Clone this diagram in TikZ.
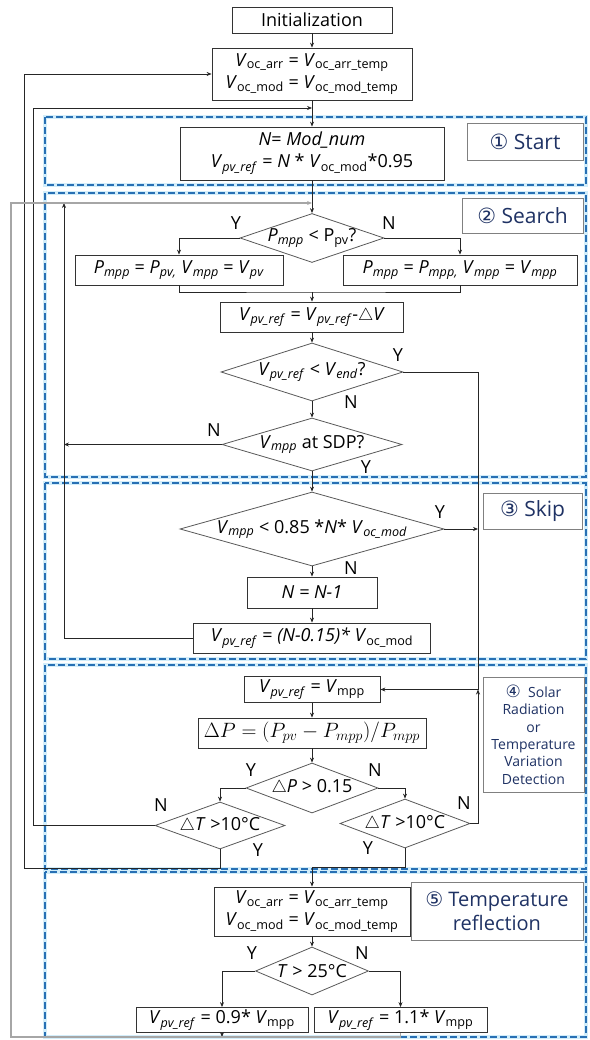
\documentclass[tikz,border=0pt]{standalone}
\usepackage{fontspec}
\setmainfont{Open Sans}
\newfontfamily\circfont{DejaVu Sans}
\usetikzlibrary{shapes.geometric,arrows.meta}

\definecolor{frameblue}{RGB}{40,112,180}
\definecolor{frameglow}{RGB}{210,237,250}
\definecolor{tagnavy}{RGB}{31,50,100}

\newcommand{\mainsz}{\fontsize{18}{22}\selectfont}
\newcommand{\tagsz}{\fontsize{21}{25}\selectfont}
\newcommand{\dtext}[1]{\makebox[0pt]{#1}}
% V and P with upright or italic subscripts
\newcommand{\Vu}[1]{\textit{V}\textsubscript{#1}}
\newcommand{\Vi}[1]{\textit{V}\textsubscript{\textit{#1}}}
\newcommand{\Pmi}[1]{\textit{P}\textsubscript{\textit{#1}}}

\tikzset{
  box/.style={draw=black!80, line width=0.8pt, fill=white, align=center, inner sep=1pt, font=\mainsz},
  dec/.style={diamond, draw=black!65, line width=0.8pt, fill=white, inner sep=0pt, font=\mainsz},
  tag/.style={draw=black!50, line width=0.9pt, fill=white, text=tagnavy, align=center, font=\tagsz},
  yn/.style={font=\mainsz, inner sep=0pt},
  arr/.style={draw=black!85, line width=0.7pt, -{Stealth[length=5pt,width=4pt]}},
  back/.style={draw=gray!70, line width=1.3pt, -{Stealth[length=5pt,width=4pt]}},
  grp/.style={draw=frameblue, line width=2.2pt, dash pattern=on 7pt off 3pt},
  glow/.style={draw=frameglow, line width=4.5pt},
}

\begin{document}
\begin{tikzpicture}[x=1pt,y=-1pt]
  \useasboundingbox (0,0) rectangle (589,1040);

  % dashed stage frames
  \foreach \ya/\yb in {117/185,193/477,483/659,665/869,872/1037}{
    \draw[glow] (45,\ya) rectangle (586,\yb);
    \draw[grp] (45,\ya) rectangle (586,\yb);
  }

  % main column
  \node[box, minimum width=160pt, minimum height=26pt] (init) at (312,20) {Initialization};
  \node[box, minimum width=200pt, minimum height=52pt] (voc1) at (312,74)
    {\Vu{oc\_arr} = \Vu{oc\_arr\_temp}\\ \Vu{oc\_mod} = \Vu{oc\_mod\_temp}};
  \node[box, minimum width=264pt, minimum height=53pt] (nmod) at (312,153.5)
    {\textit{N}= \textit{Mod\_num}\\ \Vi{pv\_ref} = \textit{N} * \Vu{oc\_mod}*0.95};

  % search
  \node[dec, minimum width=144pt, minimum height=49pt] (dec1) at (312,238)
    {\dtext{\Pmi{mpp} < P\textsubscript{pv}?}};
  \node[box, minimum width=208pt, minimum height=30pt] (pl) at (179,270)
    {\Pmi{mpp} = \Pmi{pv,} \Vi{mpp} = \Vi{pv}};
  \node[box, minimum width=234pt, minimum height=30pt] (pr) at (460,270)
    {\Pmi{mpp} = \Pmi{mpp,} \Vi{mpp} = \Vi{mpp}};
  \node[box, minimum width=183pt, minimum height=30pt] (dv) at (312,317)
    {\Vi{pv\_ref} = \Vi{pv\_ref}-$\triangle$\textit{V}};
  \node[dec, minimum width=182pt, minimum height=58pt] (dec2) at (312,372)
    {\dtext{\Vi{pv\_ref} < \Vi{end}?}};
  \node[dec, minimum width=180pt, minimum height=53pt] (dec3) at (312,444.5)
    {\dtext{\Vi{mpp} at SDP?}};

  % skip
  \node[dec, minimum width=264pt, minimum height=74pt] (dec4) at (312,529)
    {\dtext{\Vi{mpp} < 0.85 *\textit{N}* \Vi{oc\_mod}}};
  \node[box, minimum width=130pt, minimum height=31pt] (nm1) at (312,592.5) {\textit{N = N-1}};
  \node[box, minimum width=237pt, minimum height=30pt] (nref) at (312,638)
    {\Vi{pv\_ref} = \textit{(N-0.15)*} \Vu{oc\_mod}};

  % variation detection
  \node[box, minimum width=136pt, minimum height=26pt] (vmpp) at (312,689.5)
    {\Vi{pv\_ref} = \Vu{mpp}};
  \node[box, minimum width=228pt, minimum height=30pt] (dp) at (312,733)
    {\scalebox{1.2}{$\Delta P=(P_{pv}-P_{mpp})/P_{mpp}$}};
  \node[dec, minimum width=132pt, minimum height=50pt] (dec5) at (312,788)
    {\dtext{$\triangle$\textit{P} > 0.15}};
  \node[dec, minimum width=130pt, minimum height=47pt] (dec6) at (220,825.5)
    {\dtext{$\triangle$\textit{T} >10°C}};
  \node[dec, minimum width=130pt, minimum height=49pt] (dec7) at (405,823.5)
    {\dtext{$\triangle$\textit{T} >10°C}};

  % temperature reflection
  \node[box, minimum width=196pt, minimum height=49pt] (voc2) at (312,911.5)
    {\Vu{oc\_arr} = \Vu{oc\_arr\_temp}\\ \Vu{oc\_mod} = \Vu{oc\_mod\_temp}};
  \node[dec, minimum width=113pt, minimum height=48pt] (dec8) at (312,971)
    {\dtext{\textit{T} > 25°C}};
  \node[box, minimum width=172pt, minimum height=25pt] (ql) at (222,1020)
    {\Vi{pv\_ref} = 0.9* \Vu{mpp}};
  \node[box, minimum width=173pt, minimum height=25pt] (qr) at (400.5,1020)
    {\Vi{pv\_ref} = 1.1* \Vu{mpp}};

  % stage tags
  \node[tag, minimum width=116pt, minimum height=37pt] (tag1) at (525,141.5) {{\circfont ①} Start};
  \node[tag, minimum width=121pt, minimum height=35pt] (tag2) at (522.5,215.5) {{\circfont ②} Search};
  \node[tag, minimum width=99pt, minimum height=36pt] (tag3) at (532.5,511) {{\circfont ③} Skip};
  \node[tag, minimum width=101pt, minimum height=115pt, font=\fontsize{14}{17.4}\selectfont] (tag4) at (533.5,734.5)
    {{\circfont\fontsize{17}{17}\selectfont ④}\ \ Solar\\Radiation\\or\\Temperature\\Variation\\Detection};
  \node[tag, minimum width=172pt, minimum height=58pt, font=\fontsize{20}{24}\selectfont] (tag5) at (497,911)
    {{\circfont ⑤} Temperature\\reflection};

  % Y / N marks
  \node[yn] (y1) at (236,223) {Y};
  \node[yn] (n1) at (389,223) {N};
  \node[yn] (y2) at (398,355) {Y};
  \node[yn] (n2) at (351,402) {N};
  \node[yn] (n3) at (214,430) {N};
  \node[yn] (y3) at (366,467) {Y};
  \node[yn] (y4) at (440,512) {Y};
  \node[yn] (n4) at (351,568) {N};
  \node[yn] (y5) at (251,770) {Y};
  \node[yn] (n5) at (375,770) {N};
  \node[yn] (n6) at (161,805) {N};
  \node[yn] (y6) at (258,850) {Y};
  \node[yn] (n7) at (464,803) {N};
  \node[yn] (y7) at (368,848) {Y};
  \node[yn] (y8) at (252,953) {Y};
  \node[yn] (n8) at (362,953) {N};

  % junction points
  \coordinate (mrg) at (312,292);
  \coordinate (bus) at (478,689.5);
  \coordinate (jv) at (312,867);
  \coordinate (inA) at (312,108);
  \coordinate (inB) at (312,203);
  \coordinate (lpA) at (33,108);
  \coordinate (lpB) at (64,203);
  \coordinate (lpC) at (24,868);
  \coordinate (lpD) at (11,1037);

  % forward flow
  \draw[arr] (init) -- (voc1);
  \draw[arr] (voc1) -- (nmod);
  \draw[arr] (nmod) -- (dec1);
  \draw[arr] (dec1.west) -| (pl.north);
  \draw[arr] (dec1.east) -| (pr.north);
  \draw[draw=black!85, line width=0.7pt] (pl.south) |- (mrg) -| (pr.south);
  \draw[arr] (mrg) -- (dv);
  \draw[arr] (dv) -- (dec2);
  \draw[arr] (dec2) -- (dec3);
  \draw[draw=black!85, line width=0.7pt] (dec2.east) -| (bus);
  \draw[arr] (bus) -- (vmpp.east);
  \draw[arr] (dec3) -- (dec4);
  \draw[arr] (dec4.east) -- (dec4.east -| bus);
  \draw[arr] (dec4) -- (nm1);
  \draw[arr] (nm1) -- (nref);
  \draw[arr] (vmpp) -- (dp);
  \draw[arr] (dp) -- (dec5);
  \draw[arr] (dec5.west) -| (dec6.north);
  \draw[arr] (dec5.east) -| (dec7.north);
  \draw[arr] (dec7.east) -| (bus);
  \draw[arr] (dec7.south) |- (jv) -- (voc2.north);
  \draw[arr] (voc2) -- (dec8);
  \draw[arr] (dec8.west) -| (ql.north);
  \draw[arr] (dec8.east) -| (qr.north);
  \draw[arr] (ql.south) -- (ql.south |- lpD);

  % loops back on the left
  \draw[arr] (dec3.west) -- (dec3.west -| lpB);
  \draw[arr] (nref.west) -| (lpB);
  \draw[arr] (dec6.west) -| (lpA) -- (inA);
  \draw[arr] (dec6.south) |- (lpC) |- (voc1.west);
  \draw[back] (qr.south) |- (lpD) |- (inB);
\end{tikzpicture}
\end{document}
